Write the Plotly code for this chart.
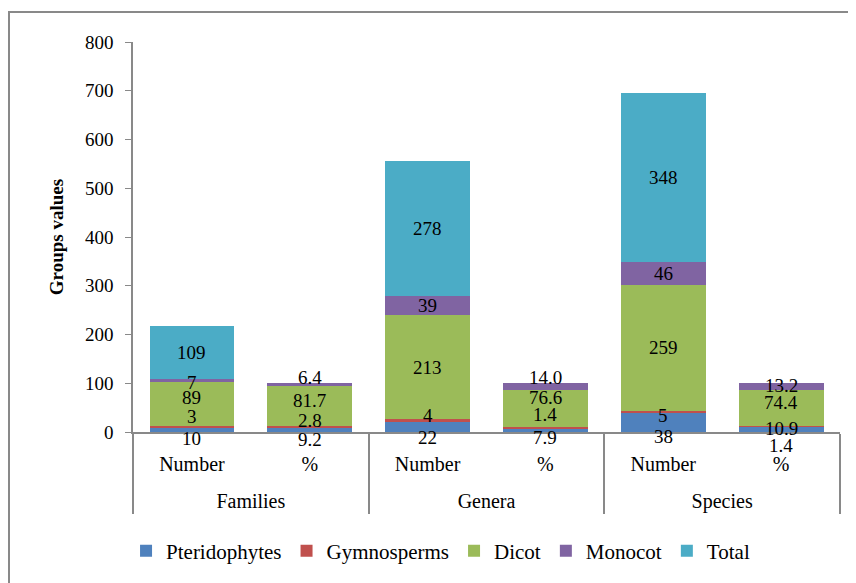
import plotly.graph_objects as go

# -----------------------------
# Data
# -----------------------------
groups = ["Families", "Families", "Genera", "Genera", "Species", "Species"]
measures = ["Number", "%", "Number", "%", "Number", "%"]

pteridophytes = [10, 9.2, 22, 7.9, 38, 10.9]
gymnosperms = [3, 2.8, 4, 1.4, 5, 1.4]
dicot = [89, 81.7, 213, 76.6, 259, 74.4]
monocot = [7, 6.4, 39, 14.0, 46, 13.2]
total = [109, None, 278, None, 348, None]

series = [
    ("Pteridophytes", pteridophytes, "#4F81BD"),
    ("Gymnosperms", gymnosperms, "#C0504D"),
    ("Dicot", dicot, "#9BBB59"),
    ("Monocot", monocot, "#8064A2"),
    ("Total", total, "#4BACC6"),
]

# label nudges in pixels (+ = up), the original labels were moved by hand
label_nudge = {
    "Pteridophytes": [-8.5, -10, -11, -7, -14, 1],
    "Gymnosperms": [9.5, 6, 5, 13, -3, -19],
    "Dicot": [6, 6, 0, 11, 0, 5],
    "Monocot": [-1.5, 7, 0, 9, 0, 1.5],
    "Total": [0, 0, 0, 0, 0, 0],
}

FONT = "Times New Roman, Liberation Serif, DejaVu Serif, serif"
GREY = "#898989"
# page body has an 8px margin, so the figure is drawn 8px in from the corner
W, H = 848, 575
L, R, T, B = 125, 16, 34, 151

fig = go.Figure()

base = [0.0] * len(groups)
annotations = []
for name, vals, color in series:
    fig.add_trace(go.Bar(
        name=name, x=[groups, measures], y=vals,
        marker=dict(color=color, line=dict(width=0)),
        hoverinfo="name+y",
    ))
    for i, v in enumerate(vals):
        if v is None:
            continue
        annotations.append(dict(
            x=i, y=base[i] + v / 2.0, xref="x", yref="y",
            yshift=label_nudge[name][i],
            text=str(int(v)) if measures[i] == "Number" else f"{v:.1f}",
            showarrow=False, xanchor="center", yanchor="middle",
            font=dict(family=FONT, size=19, color="black"),
        ))
        base[i] += v

# blank first line pushes the group names down like the original
group_labels = ["<br>" + g for g in groups]
for tr in fig.data:
    tr.x = [group_labels, measures]

fig.update_layout(
    barmode="stack",
    bargap=0.28,
    width=W, height=H,
    margin=dict(l=L, r=R, t=T, b=B, autoexpand=False),
    paper_bgcolor="white", plot_bgcolor="white",
    font=dict(family=FONT, size=19, color="black"),
    annotations=annotations,
    legend=dict(
        orientation="h", x=0.435, xanchor="center",
        y=(H - B - 543) / (H - T - B), yanchor="middle",
        font=dict(family=FONT, size=21), traceorder="normal",
    ),
    xaxis=dict(
        type="multicategory",
        showline=True, linecolor=GREY, linewidth=1.5,
        ticks="", ticklabelstandoff=13,
        showdividers=True, dividercolor=GREY, dividerwidth=1.5,
        tickfont=dict(family=FONT, size=20),
    ),
    yaxis=dict(
        range=[0, 800], tick0=0, dtick=100,
        showline=True, linecolor=GREY, linewidth=1.5,
        ticks="outside", ticklen=6, tickcolor=GREY,
        showgrid=False, zeroline=False,
        ticklabelstandoff=8,
        tickfont=dict(family=FONT, size=19),
        title=dict(text="<b>Groups values</b>", standoff=16,
                   font=dict(family=FONT, size=19)),
    ),
    shapes=[dict(
        type="rect", xref="paper", yref="paper",
        x0=(1 - L) / (W - L - R), x1=1.2,
        y0=-0.6, y1=(H - B - 4) / (H - T - B),
        line=dict(color=GREY, width=2), layer="above",
    )],
)

fig.write_html("out.html")
